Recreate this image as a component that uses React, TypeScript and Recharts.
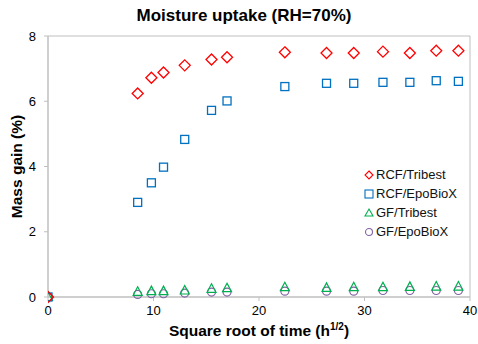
import React from 'react';
import { ScatterChart, Scatter, XAxis, YAxis, ReferenceArea, Label } from 'recharts';

const timeRoot = [0, 8.5, 9.8, 10.95, 12.96, 15.5, 16.97, 22.45, 26.4, 28.98, 31.75, 34.3, 36.8, 38.9];
const rcfTribest = [0, 6.24, 6.72, 6.88, 7.1, 7.28, 7.35, 7.5, 7.48, 7.48, 7.52, 7.48, 7.55, 7.55];
const rcfEpo = [0, 2.9, 3.5, 3.98, 4.83, 5.72, 6.01, 6.45, 6.55, 6.55, 6.58, 6.58, 6.63, 6.61];
const gfTribest = [0, 0.16, 0.18, 0.18, 0.2, 0.25, 0.27, 0.3, 0.28, 0.3, 0.3, 0.31, 0.32, 0.32];
const gfEpo = [0, 0.08, 0.1, 0.1, 0.12, 0.15, 0.15, 0.18, 0.18, 0.18, 0.2, 0.2, 0.2, 0.2];
const xTicks = [0, 10, 20, 30, 40];
const yTicks = [0, 2, 4, 6, 8];
const seriesNames = ['RCF/Tribest', 'RCF/EpoBioX', 'GF/Tribest', 'GF/EpoBioX'];

const toPts = (ys: number[]) => timeRoot.map((x, i) => ({ x, y: ys[i] }));

const RED = '#FF0000';
const BLUE = '#0070C0';
const GREEN = '#00B050';
const PURPLE = '#8064A2';
const FONT = 'Liberation Sans, Arial, sans-serif';

const Diamond = (p: any) => (
  <path d={`M${p.cx},${p.cy - 5.5} L${p.cx + 5.5},${p.cy} L${p.cx},${p.cy + 5.5} L${p.cx - 5.5},${p.cy} Z`} fill="none" stroke={RED} strokeWidth={1.3} />
);
const Square = (p: any) => (
  <rect x={p.cx - 4} y={p.cy - 4} width={8} height={8} fill="none" stroke={BLUE} strokeWidth={1.3} />
);
const Tri = (p: any) => (
  <path d={`M${p.cx},${p.cy - 5} L${p.cx + 4.5},${p.cy + 3.5} L${p.cx - 4.5},${p.cy + 3.5} Z`} fill="none" stroke={GREEN} strokeWidth={1.2} />
);
const Circ = (p: any) => (
  <circle cx={p.cx} cy={p.cy} r={4} fill="none" stroke={PURPLE} strokeWidth={1.2} />
);

const legendIcons = [
  (cx: number, cy: number) => <path d={`M${cx},${cy - 4} L${cx + 4},${cy} L${cx},${cy + 4} L${cx - 4},${cy} Z`} fill="none" stroke={RED} strokeWidth={1.1} />,
  (cx: number, cy: number) => <rect x={cx - 4} y={cy - 4} width={8} height={8} fill="none" stroke={BLUE} strokeWidth={1.1} />,
  (cx: number, cy: number) => <path d={`M${cx},${cy - 4} L${cx + 4},${cy + 3} L${cx - 4},${cy + 3} Z`} fill="none" stroke={GREEN} strokeWidth={1.1} />,
  (cx: number, cy: number) => <circle cx={cx} cy={cy} r={3.5} fill="none" stroke={PURPLE} strokeWidth={1.1} />,
];

const LegendBox = () => (
  <div style={{ position: 'absolute', left: 364, top: 165, fontFamily: FONT, fontSize: 13, color: '#111' }}>
    {seriesNames.map((n, i) => (
      <div key={n} style={{ display: 'flex', alignItems: 'center', height: 19 }}>
        <svg width={10} height={12} style={{ marginRight: 2 }}>{legendIcons[i](5, 6)}</svg>
        <span>{n}</span>
      </div>
    ))}
  </div>
);

const XLabel = (props: any) => {
  const vb = props.viewBox || {};
  const cx = vb.x + vb.width / 2;
  return (
    <text x={cx} y={336} textAnchor="middle" fontWeight="bold" fontSize={15.5} fill="#000" fontFamily={FONT}>
      <tspan>Square root of time (h</tspan>
      <tspan fontSize={10} dy={-6}>1/2</tspan>
      <tspan dy={6}>)</tspan>
    </text>
  );
};

const YLabel = (props: any) => {
  const vb = props.viewBox || {};
  const cy = vb.y + vb.height / 2;
  return (
    <text x={16} y={cy} transform={`rotate(-90 16 ${cy})`} textAnchor="middle" dominantBaseline="central" fontWeight="bold" fontSize={15.5} fill="#000" fontFamily={FONT}>
      Mass gain (%)
    </text>
  );
};

export default function App() {
  return (
    <div style={{ position: 'absolute', left: 0, top: 0, width: 478, height: 344, background: '#fff', fontFamily: FONT }}>
      <div style={{ position: 'absolute', left: 0, top: 6, width: 488, textAlign: 'center', fontWeight: 'bold', fontSize: 17, color: '#000' }}>
        Moisture uptake (RH=70%)
      </div>
      <ScatterChart width={478} height={344} margin={{ top: 36, right: 8, bottom: 0, left: 0 }}>
        <XAxis type="number" dataKey="x" domain={[0, 40]} ticks={xTicks} height={47}
          axisLine={{ stroke: '#BFBFBF' }} tickLine={{ stroke: '#BFBFBF' }} tickSize={4} tickMargin={5}
          tick={{ fill: '#000', fontSize: 13, fontFamily: FONT }} allowDataOverflow>
          <Label content={<XLabel />} />
        </XAxis>
        <YAxis type="number" dataKey="y" domain={[0, 8]} ticks={yTicks} width={48}
          axisLine={{ stroke: '#BFBFBF' }} tickLine={{ stroke: '#BFBFBF' }} tickSize={4} tickMargin={8}
          tick={{ fill: '#000', fontSize: 13, fontFamily: FONT }}>
          <Label content={<YLabel />} />
        </YAxis>
        <ReferenceArea x1={0} x2={40} y1={0} y2={8} fill="none" stroke="#BFBFBF" strokeWidth={1} ifOverflow="visible" />
        <Scatter name={seriesNames[3]} data={toPts(gfEpo)} shape={Circ} isAnimationActive={false} />
        <Scatter name={seriesNames[2]} data={toPts(gfTribest)} shape={Tri} isAnimationActive={false} />
        <Scatter name={seriesNames[1]} data={toPts(rcfEpo)} shape={Square} isAnimationActive={false} />
        <Scatter name={seriesNames[0]} data={toPts(rcfTribest)} shape={Diamond} isAnimationActive={false} />
      </ScatterChart>
      <LegendBox />
    </div>
  );
}
